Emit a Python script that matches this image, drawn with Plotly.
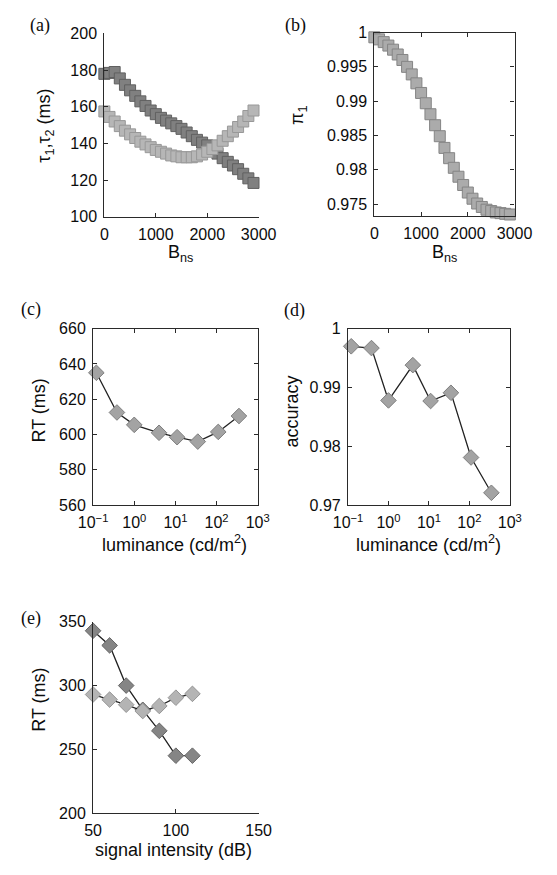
import plotly.graph_objects as go

# ---- data ----
# (a) time constants vs B_ns
b_ns = [0, 100, 200, 300, 400, 500, 600, 700, 800, 900, 1000, 1100, 1200, 1300, 1400,
        1500, 1600, 1700, 1800, 1900, 2000, 2100, 2200, 2300, 2400, 2500, 2600, 2700, 2800, 2900]
tau_dark = [178, 178.5, 179, 175.5, 172, 169, 166, 163, 160.5, 158, 156, 154, 152.5, 151, 149.5,
            148, 146, 144, 142, 140.5, 139, 137, 134.5, 132, 130, 128, 126, 123.5, 121, 118.5]
tau_light = [157.5, 154.5, 152, 149.5, 147, 145, 143, 141, 139.5, 138, 136.5, 135.5, 134.5, 133.5, 133,
             132.5, 132.5, 132.5, 133, 134, 135.5, 137, 139, 141.5, 144, 146.5, 149, 152, 155, 158]
# (b) mixing proportion vs B_ns
pi1 = [0.9993, 0.9990, 0.9986, 0.9981, 0.9975, 0.9968, 0.9960, 0.9950, 0.9939, 0.9926,
       0.9912, 0.9897, 0.9881, 0.9865, 0.9849, 0.9832, 0.9817, 0.9803, 0.9790, 0.9778,
       0.9767, 0.9758, 0.9751, 0.9746, 0.9742, 0.9740, 0.9738, 0.9737, 0.9736, 0.9735]
# (c), (d) luminance
luminance = [0.12, 0.38, 1.0, 4.0, 11, 35, 110, 350]
rt_lum = [635, 612.5, 605.5, 601, 598.5, 596, 601.5, 610.5]
acc_lum = [0.997, 0.9967, 0.9878, 0.9938, 0.9877, 0.9891, 0.9781, 0.9721]
# (e) signal intensity
intensity = [50, 60, 70, 80, 90, 100, 110]
rt_dark = [343, 331.5, 300, 281, 264.5, 245, 245]
rt_light = [293, 289, 285, 280, 284, 290.5, 293.5]

# tick labels
ticks_a_x = [0, 1000, 2000, 3000]
ticks_a_y = [100, 120, 140, 160, 180, 200]
ticks_b_y = [0.975, 0.98, 0.985, 0.99, 0.995, 1]
ticks_b_ytext = ["0.975", "0.98", "0.985", "0.99", "0.995", "1"]
ticks_log = [0.1, 1, 10, 100, 1000]
ticks_log_text = ["10<sup>−1</sup>", "10<sup>0</sup>", "10<sup>1</sup>", "10<sup>2</sup>", "10<sup>3</sup>"]
ticks_c_y = [560, 580, 600, 620, 640, 660]
ticks_d_y = [0.97, 0.98, 0.99, 1]
ticks_d_ytext = ["0.97", "0.98", "0.99", "1"]
ticks_e_x = [50, 100, 150]
ticks_e_y = [200, 250, 300, 350]

W, H = 557, 875
SANS = "Liberation Sans, Arial, sans-serif"
SERIF = "Liberation Serif, Times New Roman, serif"
AX = "#2a2a2a"
TXT = "#0c0c0c"


def dom_x(a, b):
    return [a / W, b / W]


def dom_y(top, bottom):
    return [1 - bottom / H, 1 - top / H]


def axis(domain, anchor, box, **kw):
    d = dict(domain=domain, anchor=anchor, showline=True, linecolor=AX, linewidth=1.2,
             mirror="ticks" if box else False, ticks="inside", ticklen=4, tickcolor=AX,
             showgrid=False, zeroline=False, tickfont=dict(family=SANS, size=16, color=TXT),
             ticklabelstandoff=3)
    d.update(kw)
    return d


fig = go.Figure()

sq_dark = dict(symbol="square", size=11, color="#808080", line=dict(color="#606060", width=1))
sq_light = dict(symbol="square", size=11, color="#b6b6b6", line=dict(color="#989898", width=1))
sq_mid = dict(symbol="square", size=11, color="#ababab", line=dict(color="#858585", width=1))
dm_mid = dict(symbol="diamond", size=12, color="#a3a3a3", line=dict(color="#7e7e7e", width=1))
dm_dark = dict(symbol="diamond", size=12, color="#858585", line=dict(color="#666", width=1))
dm_light = dict(symbol="diamond", size=12, color="#b4b4b4", line=dict(color="#959595", width=1))
ln = dict(color="#222", width=1.3)

# (a)
fig.add_trace(go.Scatter(x=b_ns, y=tau_dark, mode="markers", marker=sq_dark,
                         xaxis="x", yaxis="y", cliponaxis=False))
fig.add_trace(go.Scatter(x=b_ns, y=tau_light, mode="markers", marker=sq_light,
                         xaxis="x", yaxis="y", cliponaxis=False))
# (b)
fig.add_trace(go.Scatter(x=b_ns, y=pi1, mode="markers", marker=sq_mid,
                         xaxis="x2", yaxis="y2", cliponaxis=False))
# (c)
fig.add_trace(go.Scatter(x=luminance, y=rt_lum, mode="lines+markers", marker=dm_mid, line=ln,
                         xaxis="x3", yaxis="y3", cliponaxis=False))
# (d)
fig.add_trace(go.Scatter(x=luminance, y=acc_lum, mode="lines+markers", marker=dm_mid, line=ln,
                         xaxis="x4", yaxis="y4", cliponaxis=False))
# (e)
fig.add_trace(go.Scatter(x=intensity, y=rt_dark, mode="lines+markers", marker=dm_dark, line=ln,
                         xaxis="x5", yaxis="y5", cliponaxis=False))
fig.add_trace(go.Scatter(x=intensity, y=rt_light, mode="lines+markers", marker=dm_light, line=ln,
                         xaxis="x5", yaxis="y5", cliponaxis=False))

fig.update_layout(
    width=W, height=H, margin=dict(l=0, r=0, t=0, b=0),
    paper_bgcolor="white", plot_bgcolor="white", showlegend=False,
    xaxis=axis(dom_x(95, 259), "y", False, range=[0, 3000], tickvals=ticks_a_x),
    yaxis=axis(dom_y(26, 213), "x", False, range=[100, 200], tickvals=ticks_a_y),
    xaxis2=axis(dom_x(382, 531), "y2", True, range=[0, 3000], tickvals=ticks_a_x),
    yaxis2=axis(dom_y(25, 212), "x2", True, range=[0.9733, 1.0],
                tickvals=ticks_b_y, ticktext=ticks_b_ytext),
    xaxis3=axis(dom_x(83, 258), "y3", True, type="log", range=[-1, 3],
                tickvals=ticks_log, ticktext=ticks_log_text),
    yaxis3=axis(dom_y(327, 507), "x3", True, range=[560, 660], tickvals=ticks_c_y),
    xaxis4=axis(dom_x(354, 526), "y4", True, type="log", range=[-1, 3],
                tickvals=ticks_log, ticktext=ticks_log_text),
    yaxis4=axis(dom_y(327, 507), "x4", True, range=[0.97, 1.0],
                tickvals=ticks_d_y, ticktext=ticks_d_ytext),
    xaxis5=axis(dom_x(83, 259), "y5", False, range=[50, 150], tickvals=ticks_e_x),
    yaxis5=axis(dom_y(626, 821), "x5", False, range=[200, 350], tickvals=ticks_e_y),
)


def label(text, px, py, size=18, family=SANS, angle=0):
    fig.add_annotation(text=text, x=px / W, y=1 - py / H, xref="paper", yref="paper",
                       xanchor="center", yanchor="middle", showarrow=False, textangle=angle,
                       font=dict(family=family, size=size, color=TXT))


# panel letters
label("(a)", 27, 18, 18, SERIF)
label("(b)", 298, 18, 18, SERIF)
label("(c)", 17, 307, 18, SERIF)
label("(d)", 297, 308, 18, SERIF)
label("(e)", 17, 623, 18, SERIF)

# axis titles
label("B<sub>ns</sub>", 176, 250)
label("B<sub>ns</sub>", 457, 250)
label("τ<sub>1</sub>,τ<sub>2</sub> (ms)", 33, 120, angle=-90)
label("π<sub>1</sub>", 302, 110, angle=-90)
label("luminance (cd/m<sup>2</sup>)", 170, 546)
label("RT (ms)", 26, 410, angle=-90)
label("luminance (cd/m<sup>2</sup>)", 440, 546)
label("accuracy", 294, 412, angle=-90)
label("signal intensity (dB)", 169, 859)
label("RT (ms)", 26, 705, angle=-90)

fig.write_html("out.html")
